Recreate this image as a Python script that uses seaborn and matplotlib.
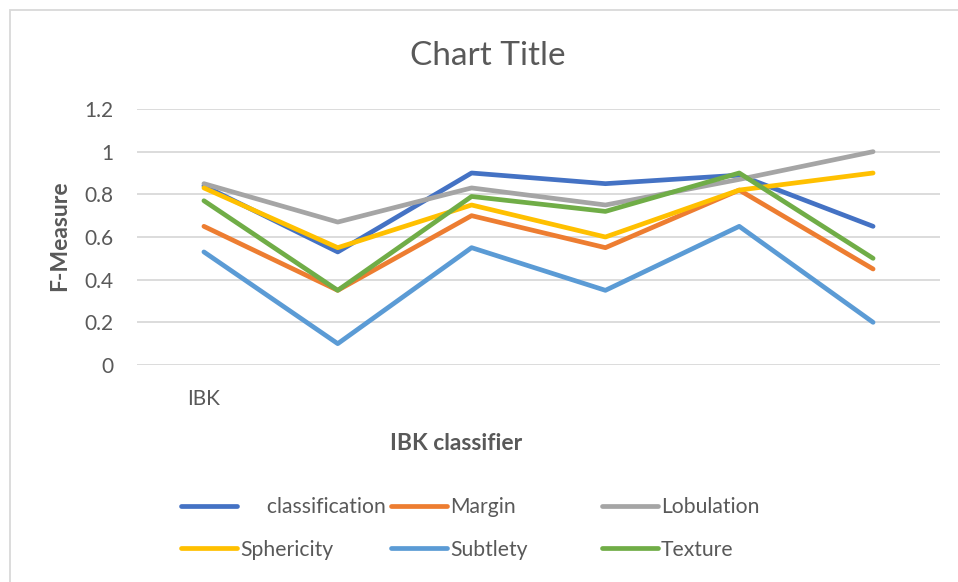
""" F-Measure per attribute for the IBK classifier, Excel-style line chart
"""

import numpy as np
import pandas as pd
import matplotlib
matplotlib.use('Agg')
import matplotlib.pyplot as plt
import seaborn as sns
from matplotlib.patches import Rectangle

# Data
runs = [0, 1, 2, 3, 4, 5]
tick_labels = ['IBK', '', '', '', '', '']
series_names = ['     classification', 'Margin', 'Lobulation',
                'Sphericity', 'Subtlety', 'Texture']
classification = [0.84, 0.53, 0.90, 0.85, 0.89, 0.65]
margin = [0.65, 0.35, 0.70, 0.55, 0.82, 0.45]
lobulation = [0.85, 0.67, 0.83, 0.75, 0.87, 1.00]
sphericity = [0.83, 0.55, 0.75, 0.60, 0.82, 0.90]
subtlety = [0.53, 0.10, 0.55, 0.35, 0.65, 0.20]
texture = [0.77, 0.35, 0.79, 0.72, 0.90, 0.50]
colors = ['#4472C4', '#ED7D31', '#A5A5A5', '#FFC000', '#5B9BD5', '#70AD47']

if __name__ == '__main__':

    values = [classification, margin, lobulation, sphericity, subtlety, texture]
    df = pd.DataFrame({
        'run': np.tile(runs, len(series_names)),
        'series': np.repeat(series_names, len(runs)),
        'fmeasure': np.concatenate(values),
    })

    sns.set_style('white')
    plt.rcParams['font.family'] = ['Lato', 'DejaVu Sans']
    txt_color = '#595959'

    fig = plt.figure(figsize=(9.58, 5.82), dpi=100)
    ax = fig.add_axes([137 / 958, 1 - 365 / 582, 803 / 958, 256 / 582])

    sns.lineplot(data=df, x='run', y='fmeasure', hue='series',
                 hue_order=series_names, palette=colors, lw=3.4,
                 ax=ax, legend=False, solid_capstyle='round')

    ax.set_xlim(-0.5, 5.5)
    ax.set_ylim(0, 1.2)
    ax.set_yticks(np.arange(0, 1.21, 0.2))
    ax.set_yticklabels(['0', '0.2', '0.4', '0.6', '0.8', '1', '1.2'])
    ax.set_xticks(runs)
    ax.set_xticklabels(tick_labels)
    ax.tick_params(axis='both', length=0, labelsize=15, colors=txt_color)
    ax.tick_params(axis='y', pad=17)
    ax.tick_params(axis='x', pad=17)
    ax.grid(axis='y', color='#D9D9D9', lw=1.3)
    ax.set_axisbelow(True)
    for s in ax.spines.values():
        s.set_visible(False)

    ax.set_xlabel('IBK classifier', fontsize=16.5, fontweight='bold',
                  color=txt_color)
    ax.set_ylabel('F-Measure', fontsize=16.5, fontweight='bold',
                  color=txt_color)
    ax.xaxis.label.set_va('center')
    ax.yaxis.label.set_va('center')
    ax.xaxis.set_label_coords((456 - 137) / 803, (365 - 444) / 256)
    ax.yaxis.set_label_coords((60 - 137) / 803, (365 - 236) / 256)

    fig.text(488 / 958, 1 - 56 / 582, 'Chart Title', fontsize=24,
             color=txt_color, ha='center', va='center')

    # Legend: three columns placed like the Excel layout
    lines = ax.get_lines()[:len(series_names)]
    for col, x0 in enumerate([181, 391, 602]):
        idx = [col, col + 3]
        leg = fig.legend([lines[i] for i in idx],
                         [series_names[i] for i in idx],
                         loc='center left',
                         bbox_to_anchor=(x0 / 958, 1 - 528.5 / 582),
                         ncol=1, frameon=False, fontsize=15.2,
                         labelcolor=txt_color, handlelength=2.65,
                         handletextpad=0.15, labelspacing=1.05,
                         borderpad=0, borderaxespad=0)

    # chart border
    fig.patches.append(Rectangle((10 / 958, -0.1), 1.2, 1 - 10 / 582 + 0.1,
                                 transform=fig.transFigure, fill=False,
                                 ec='#D9D9D9', lw=1.3))

    plt.savefig('out.png', dpi=100)
